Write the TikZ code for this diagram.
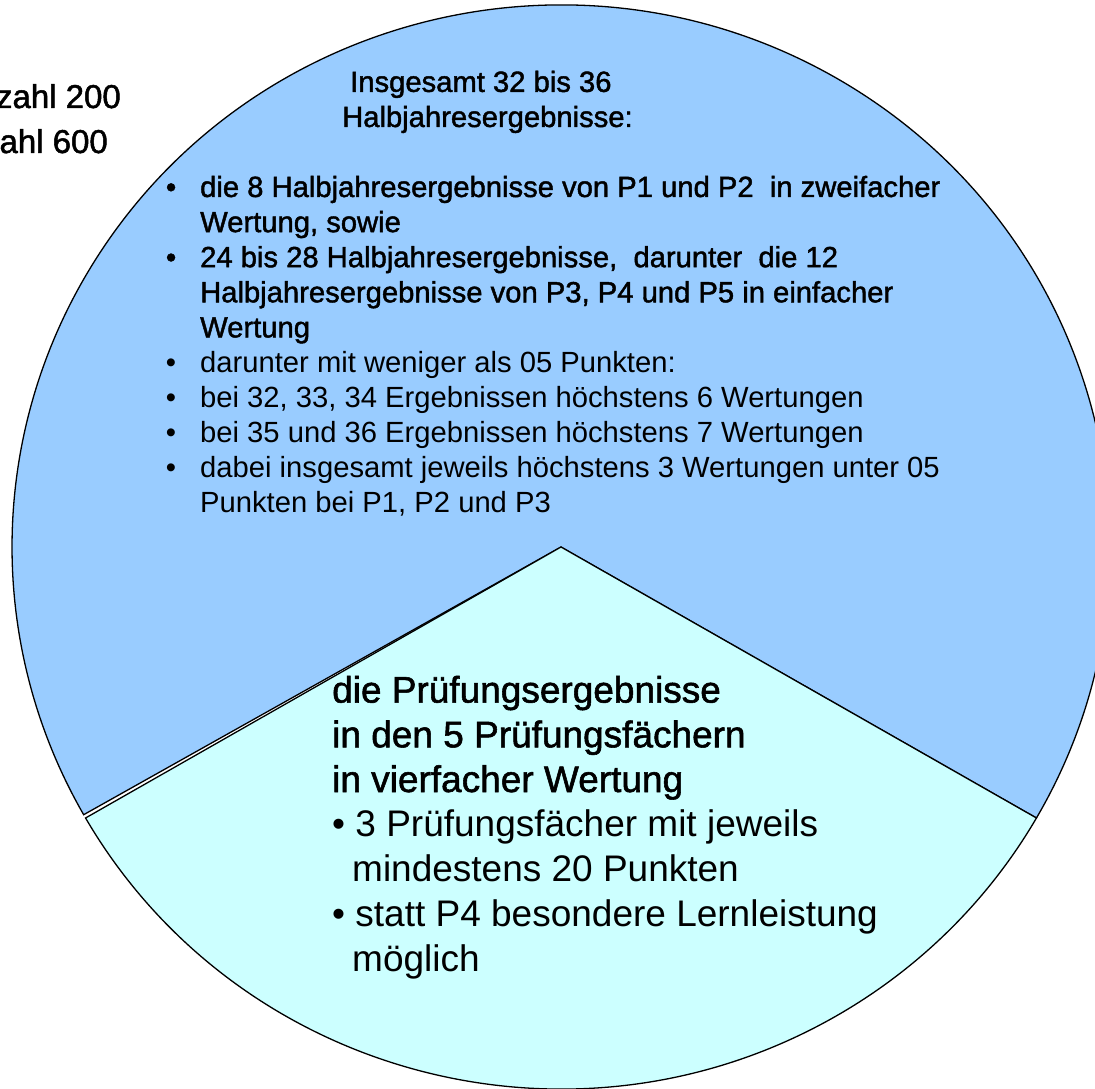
\documentclass[tikz,border=0pt]{standalone}
\usepackage{fontspec}
\setmainfont{Liberation Sans}
\newfontfamily\heavyfont[FakeBold=1.5]{Liberation Sans}
\definecolor{pieblue}{HTML}{99CCFF}
\definecolor{piecyan}{HTML}{CCFFFF}

\begin{document}
\begin{tikzpicture}[x=1pt,y=1pt,
  slice/.style={draw=black,line width=1.3pt,line join=miter},
  smalltxt/.style={anchor=base west,align=left,font=\fontsize{29.2}{35.1}\selectfont},
  bigtxt/.style={anchor=base west,align=left,font=\fontsize{37}{44.7}\selectfont},
  sidetxt/.style={anchor=base east,font=\fontsize{33}{45}\heavyfont}]
\tikzstyle{every node}+=[inner sep=0pt]
\useasboundingbox (0,0) rectangle (1095,1088);
\coordinate (c) at (561,541);
\filldraw [slice,fill=pieblue] (c) -- ++(-30:549 and 542) arc[start angle=-30,end angle=209.6,x radius=549,y radius=542] -- cycle;
\filldraw [slice,fill=piecyan] (c) -- ++(210:549 and 542) arc[start angle=210,end angle=330,x radius=549,y radius=542] -- cycle;
\node [sidetxt] (sum1) at (121,980) {zahl 200};
\node [sidetxt] (sum2) at (108,935) {zahl 600};
\node [smalltxt,font=\fontsize{29.2}{35.1}\heavyfont] (head) at (342,961) {\hspace*{8pt}Insgesamt 32 bis 36\\Halbjahresergebnisse:};
\node [smalltxt,font=\fontsize{29.2}{35.1}\heavyfont] (half) at (200,750.6) {\llap{•\hspace{24pt}}die 8 Halbjahresergebnisse von P1 und P2~ in zweifacher\\Wertung, sowie\\\llap{•\hspace{24pt}}24 bis 28 Halbjahresergebnisse,~ darunter~ die 12\\Halbjahresergebnisse von P3, P4 und P5 in einfacher\\Wertung};
\node [smalltxt] (under) at (200,575) {\llap{•\hspace{24pt}}darunter mit weniger als 05 Punkten:\\\llap{•\hspace{24pt}}bei 32, 33, 34 Ergebnissen höchstens 6 Wertungen\\\llap{•\hspace{24pt}}bei 35 und 36 Ergebnissen höchstens 7 Wertungen\\\llap{•\hspace{24pt}}dabei insgesamt jeweils höchstens 3 Wertungen unter 05\\Punkten bei P1, P2 und P3};
\node [bigtxt,font=\fontsize{37}{44.7}\heavyfont] (exam) at (332,296) {die Prüfungsergebnisse\\in den 5 Prüfungsfächern\\in vierfacher Wertung};
\node [bigtxt] (rule) at (332,117) {• 3 Prüfungsfächer mit jeweils\\\hspace*{20pt}mindestens 20 Punkten\\• statt P4 besondere Lernleistung\\\hspace*{20pt}möglich};
\end{tikzpicture}
\end{document}
